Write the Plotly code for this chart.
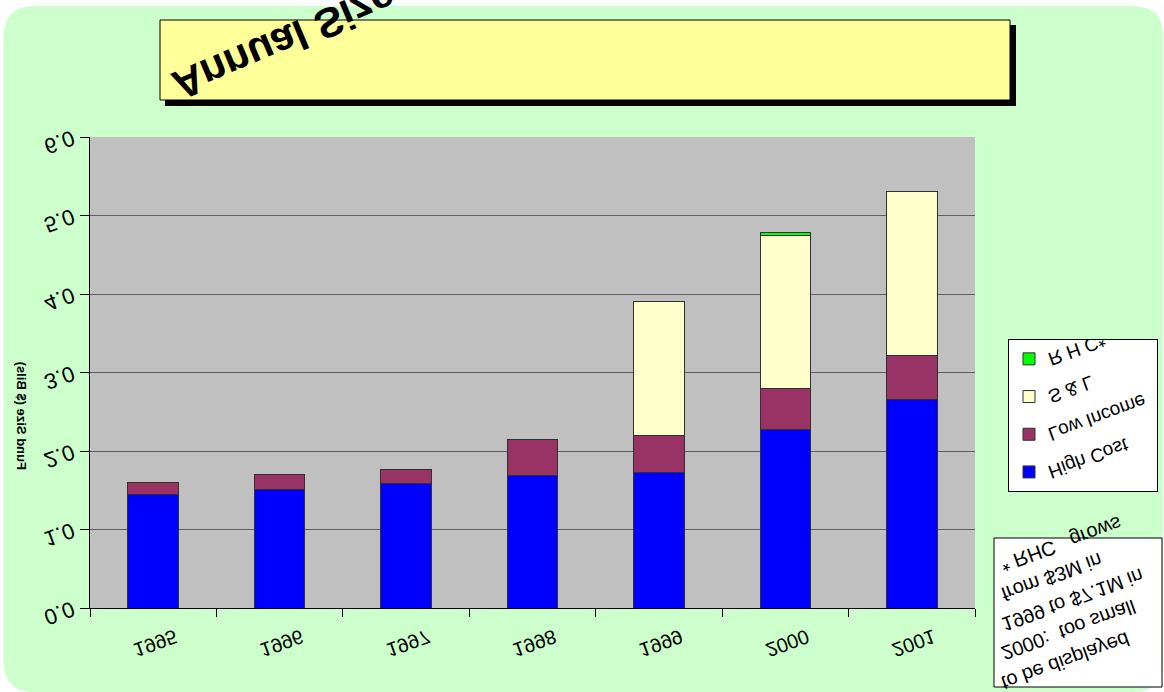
import plotly.graph_objects as go

W, H = 1164, 692

# ---- data (values in $ billions) ----
years = ["1995", "1996", "1997", "1998", "1999", "2000", "2001"]
high_cost = [1.44, 1.51, 1.59, 1.69, 1.72, 2.28, 2.66]
low_income = [0.16, 0.19, 0.18, 0.46, 0.48, 0.52, 0.56]
s_and_l = [None, None, None, None, 1.71, 1.95, 2.08]
rhc = [None, None, None, None, None, 0.03, None]

series_names = ["High Cost", "Low Income", "S & L", "R H C*"]
series_colors = ["#0000FF", "#993366", "#FFFFCC", "#00FF00"]
series_values = [high_cost, low_income, s_and_l, rhc]

y_ticks = [0, 1, 2, 3, 4, 5, 6]
title_text = "Annual Size"
y_title = "Fund Size ($ Bils)"
note_lines = ["* RHC   grows", "from $3M in", "1999 to $7.1M in", "2000:  too small", "to be displayed"]

FONT = "Arial, Liberation Sans, sans-serif"


def px(x):
    return x / W


def py(y):
    return 1 - y / H


fig = go.Figure()
n = len(series_names)
for i, (name, color, vals) in enumerate(zip(series_names, series_colors, series_values)):
    fig.add_trace(go.Bar(
        x=years, y=vals, name=name, legendgroup=name, legendrank=n - i,
        marker=dict(color=color, line=dict(color="#303030", width=1)),
    ))

# plot area in pixels
PL, PR, PT, PB = 90, 975, 137, 608

shapes = []
# rounded light-green background
l, t, r, b, rad = 4, 6, 1163, 692, 30
path = (f"M {px(l+rad)},{py(t)} L {px(r-rad)},{py(t)} Q {px(r)},{py(t)} {px(r)},{py(t+rad)} "
        f"L {px(r)},{py(b-rad)} Q {px(r)},{py(b)} {px(r-rad)},{py(b)} "
        f"L {px(l+rad)},{py(b)} Q {px(l)},{py(b)} {px(l)},{py(b-rad)} "
        f"L {px(l)},{py(t+rad)} Q {px(l)},{py(t)} {px(l+rad)},{py(t)} Z")
shapes.append(dict(type="path", xref="paper", yref="paper", path=path,
                   fillcolor="#CCFFCC", line=dict(width=0), layer="below"))
# gray plot area
shapes.append(dict(type="rect", xref="paper", yref="paper", x0=px(PL), x1=px(PR), y0=py(PB), y1=py(PT),
                   fillcolor="#C0C0C0", line=dict(width=0), layer="below"))
# title box shadow + box
shapes.append(dict(type="rect", xref="paper", yref="paper", x0=px(165), x1=px(1016), y0=py(106), y1=py(25),
                   fillcolor="#000000", line=dict(width=0), layer="below"))
shapes.append(dict(type="rect", xref="paper", yref="paper", x0=px(160), x1=px(1010), y0=py(100), y1=py(20),
                   fillcolor="#FFFF99", line=dict(color="#000000", width=1), layer="below"))
# note box
shapes.append(dict(type="rect", xref="paper", yref="paper", x0=px(994), x1=px(1162), y0=py(687), y1=py(538),
                   fillcolor="#FFFFFF", line=dict(color="#000000", width=1), layer="below"))

annotations = []
annotations.append(dict(text=title_text, xref="paper", yref="paper", x=px(284), y=py(41),
                        xanchor="center", yanchor="middle", showarrow=False, textangle=-23,
                        font=dict(family=FONT, size=42, color="black", weight="bold")))
annotations.append(dict(text=y_title, xref="paper", yref="paper", x=px(21), y=py(416),
                        xanchor="center", yanchor="middle", showarrow=False, textangle=-90,
                        font=dict(family=FONT, size=13, color="black", weight="bold")))
note_y0, note_step = 579, 29.5
for k, line in enumerate(note_lines):
    annotations.append(dict(text=line, xref="paper", yref="paper", x=px(996), y=py(note_y0 + k * note_step),
                            xanchor="left", yanchor="bottom", showarrow=False, textangle=-20,
                            font=dict(family=FONT, size=20, color="black")))

fig.update_layout(
    width=W, height=H,
    margin=dict(l=0, r=0, t=0, b=0, autoexpand=False),
    paper_bgcolor="#FFFFFF",
    plot_bgcolor="rgba(0,0,0,0)",
    barmode="stack",
    bargap=0.6,
    font=dict(family=FONT, color="black"),
    shapes=shapes,
    annotations=annotations,
    legend=dict(x=px(1008), y=py(339), xanchor="left", yanchor="top",
                bgcolor="#FFFFFF", bordercolor="#000000", borderwidth=1,
                font=dict(family=FONT, size=19, color="black"),
                traceorder="grouped", tracegroupgap=10),
    xaxis=dict(domain=[px(PL), px(PR)], type="category", showline=True, linecolor="black", linewidth=1,
               ticks="outside", tickson="boundaries", ticklen=8, tickcolor="black",
               tickangle=-20, tickfont=dict(family=FONT, size=20, color="black"),
               ticklabelshift=22, ticklabelstandoff=10, showgrid=False),
    yaxis=dict(domain=[py(PB), py(PT)], range=[0, 6], tickvals=y_ticks, tickformat=".1f",
               showline=True, linecolor="black", linewidth=1, ticks="outside", ticklen=9, tickcolor="black",
               tickangle=-20, tickfont=dict(family=FONT, size=22, color="black"),
               ticklabelstandoff=3,
               showgrid=True, gridcolor="#5f5f5f", gridwidth=1, zeroline=False),
)

post_js = """
var gd = document.getElementById('{plot_id}');
function flipText(t, ang) {
  var tr = t.getAttribute('transform') || '';
  if (tr.indexOf('scale(1,-1)') >= 0) return;
  var bb = t.getBBox();
  var cy = bb.y + bb.height / 2;
  var extra = '';
  if (ang) { extra += ' rotate(' + ang + ',' + bb.x + ',' + cy + ')'; }
  extra += ' translate(0,' + (2 * cy) + ') scale(1,-1)';
  t.setAttribute('transform', (tr + extra).trim());
}
function mirrorAll() {
  gd.querySelectorAll('.xtick text, .ytick text, .annotation-text').forEach(function(t){ flipText(t, 0); });
  gd.querySelectorAll('.legendtext').forEach(function(t){ flipText(t, -20); });
}
mirrorAll();
gd.on('plotly_afterplot', mirrorAll);
"""

fig.write_html("out.html", post_script=post_js)
